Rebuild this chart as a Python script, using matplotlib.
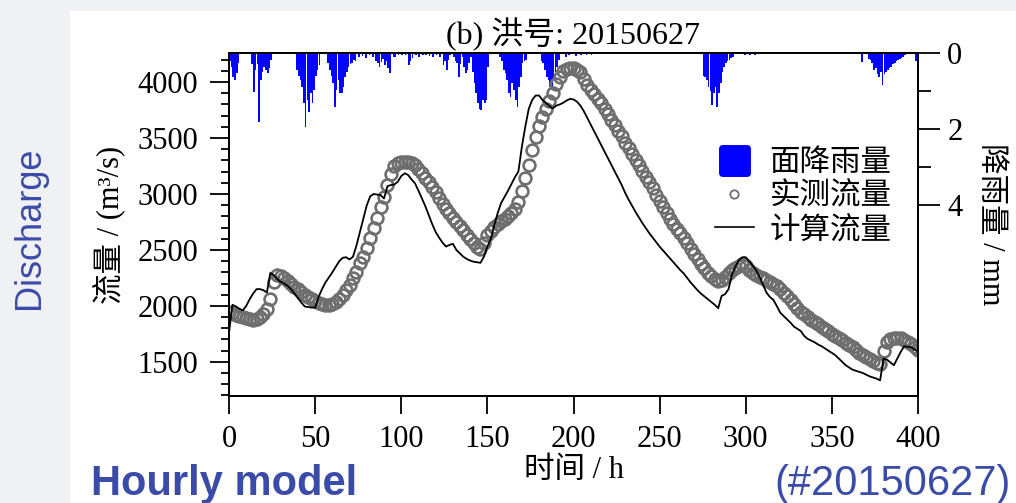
import matplotlib
matplotlib.use('Agg')
import matplotlib.pyplot as plt
from matplotlib.lines import Line2D
from matplotlib.markers import MarkerStyle
from matplotlib.patches import Rectangle
from matplotlib.ticker import MultipleLocator

plt.rcParams['font.family'] = ['Liberation Serif', 'Noto Sans CJK SC']

# time axis (h), every 2 hours
hours = list(range(0, 401, 2))

obs_flow = [
    1950, 1935, 1920, 1910, 1900, 1890, 1880, 1875, 1885, 1900,
    1925, 1970, 2060, 2210, 2280, 2270, 2245, 2220, 2195, 2170,
    2150, 2125, 2100, 2080, 2060, 2045, 2030, 2015, 2005, 2005,
    2015, 2035, 2060, 2095, 2140, 2185, 2250, 2300, 2380, 2440,
    2520, 2610, 2700, 2790, 2880, 2970, 3080, 3180, 3250, 3275,
    3285, 3290, 3285, 3275, 3255, 3220, 3185, 3145, 3105, 3065,
    3015, 2965, 2915, 2870, 2830, 2790, 2750, 2715, 2675, 2635,
    2595, 2560, 2530, 2505, 2560, 2630, 2670, 2705, 2735, 2755,
    2775, 2800, 2830, 2870, 2930, 3030, 3140, 3260, 3390, 3510,
    3610, 3690, 3760, 3830, 3900, 3980, 4045, 4095, 4120, 4130,
    4125, 4110, 4090, 4030, 3975, 3930, 3890, 3850, 3810, 3760,
    3715, 3665, 3615, 3565, 3515, 3460, 3410, 3355, 3305, 3255,
    3205, 3155, 3110, 3055, 2995, 2940, 2880, 2830, 2780, 2735,
    2690, 2650, 2610, 2560, 2510, 2460, 2415, 2375, 2335, 2295,
    2265, 2240, 2225, 2235, 2260, 2290, 2320, 2340, 2360, 2375,
    2360, 2320, 2295, 2275, 2260, 2245, 2230, 2215, 2200, 2180,
    2150, 2115, 2085, 2050, 2015, 1980, 1950, 1925, 1900, 1875,
    1855, 1835, 1815, 1795, 1775, 1750, 1730, 1715, 1695, 1670,
    1650, 1630, 1605, 1580, 1560, 1545, 1525, 1505, 1490, 1480,
    1600, 1680, 1705, 1715, 1715, 1710, 1695, 1680, 1660, 1630,
    1605,
]

# simulated discharge (m3/s), every 2 h
sim_flow = [
    1760, 2010, 1995, 1975, 1960, 2000, 2060, 2110, 2150, 2150,
    2140, 2120, 2295, 2275, 2240, 2215, 2200, 2180, 2150, 2110,
    2070, 2030, 1995, 1990, 1985, 1985, 2080, 2150, 2210, 2255,
    2300, 2350, 2400, 2430, 2435, 2415, 2440, 2540, 2660, 2780,
    2900, 2980, 3000, 2995, 2990, 2960, 3070, 3080, 3085, 3110,
    3160, 3185, 3170, 3130, 3095, 3030, 2960, 2890, 2810, 2730,
    2660, 2610, 2565, 2530, 2545, 2555, 2500, 2470, 2440, 2420,
    2405, 2395, 2390, 2385, 2440, 2530, 2600, 2720, 2830, 2920,
    2975, 3030, 3090, 3150, 3200, 3420, 3600, 3760, 3840, 3880,
    3880, 3840, 3815, 3785, 3765, 3790, 3800, 3815, 3835, 3850,
    3845, 3825, 3790, 3740, 3680, 3620, 3560, 3500, 3440, 3380,
    3320, 3260, 3200, 3140, 3080, 3010, 2950, 2895, 2840, 2790,
    2740, 2695, 2650, 2610, 2570, 2530, 2495, 2460, 2425, 2390,
    2355, 2320, 2290, 2250, 2210, 2175, 2140, 2110, 2085, 2060,
    2035, 2010, 1980, 2090, 2105, 2150, 2280, 2350, 2410, 2435,
    2435, 2400, 2360, 2320, 2260, 2190, 2120, 2080, 2055, 2000,
    1940, 1910, 1880, 1850, 1815, 1795, 1775, 1730, 1705, 1690,
    1675, 1655, 1640, 1620, 1600, 1580, 1560, 1530, 1500, 1470,
    1450, 1430, 1420, 1410, 1400, 1385, 1370, 1360, 1350, 1335,
    1530, 1520, 1495, 1470, 1530, 1590, 1640, 1635, 1630, 1610,
    1590,
]

# areal rainfall (mm), hours with rain
rain_hours = [
    0, 1, 2, 3, 4, 5,
    13, 14, 15, 16, 17, 18, 19, 20, 21, 22, 23, 24,
    39, 40, 41, 42, 43, 44, 45, 46, 47, 48, 49, 50, 51, 52,
    57, 58, 59, 60, 61, 62, 63, 64, 65, 66, 67, 68, 69, 70, 71, 72, 73,
    75, 77, 79, 81, 83, 85, 86, 87, 88, 89, 90, 91, 92, 93, 95, 96, 98,
    100, 102, 104, 105, 106, 108, 110, 112, 114, 116, 118, 120, 122,
    124, 125, 126, 127, 128, 130,
    131, 132, 133, 134, 135, 136, 137, 138, 139, 140, 141, 142, 143,
    144, 145, 146, 147, 148, 149, 150,
    157, 158, 159, 160, 161, 162, 163, 164, 165, 166, 167, 168, 169,
    170, 171, 172,
    181, 182, 183, 184, 185, 186, 187, 188, 189, 190, 191,
    195, 197, 201, 204, 207, 210,
    275, 276, 277, 278, 279, 280, 281, 282, 283, 284, 285, 286, 287,
    288, 289, 290, 291, 292,
    299, 302, 305, 357, 361, 367,
    371, 372, 373, 374, 375, 376, 377, 378, 379, 380, 381, 382, 383,
    384, 385, 386, 387, 388, 389, 390, 391, 392,
    398, 399,
]
rain_mm = [
    0.20, 0.36, 0.62, 0.71, 0.53, 0.27,
    0.30, 1.02, 0.45, 0.30, 1.81, 0.71, 0.50, 0.36, 0.45, 0.53, 0.40, 0.18,
    0.45, 0.60, 0.71, 0.89, 1.30, 1.94, 1.24, 1.54, 1.06, 1.32, 0.97, 0.60, 0.45, 0.32,
    0.27, 0.45, 0.60, 0.80, 1.41, 0.97, 0.71, 1.06, 1.06, 0.90, 0.62, 0.50, 0.36, 0.30, 0.27, 0.18, 0.20,
    0.10, 0.08, 0.14, 0.06, 0.10, 0.20, 0.27, 0.36, 0.23, 0.15, 0.32, 0.20, 0.40, 0.53, 0.10, 0.10, 0.05,
    0.05, 0.05, 0.32, 0.20, 0.14, 0.05, 0.10, 0.06, 0.05, 0.08, 0.10, 0.06, 0.10,
    0.32, 0.20, 0.45, 0.18, 0.05, 0.10,
    0.20, 0.27, 0.62, 0.30, 0.10, 0.36, 0.53, 0.45, 0.27, 0.10, 0.50, 0.80, 1.06,
    1.32, 1.46, 1.50, 1.24, 1.32, 1.24, 0.36,
    0.10, 0.20, 0.45, 0.53, 0.70, 1.06, 1.15, 0.80, 0.97, 1.24, 1.41, 0.90, 0.62,
    0.27, 0.20, 0.18,
    0.20, 0.27, 0.45, 0.62, 0.70, 0.89, 0.97, 0.71, 0.50, 0.36, 0.18,
    0.10, 0.05, 0.08, 0.05, 0.05, 0.05,
    0.60, 0.62, 0.71, 0.88, 1.00, 1.37, 1.06, 0.90, 1.41, 1.06, 0.80, 0.50, 0.36,
    0.27, 0.22, 0.18, 0.12, 0.10,
    0.05, 0.05, 0.05, 0.03, 0.03, 0.23,
    0.15, 0.18, 0.27, 0.45, 0.40, 0.54, 0.62, 0.50, 0.84, 0.54, 0.50, 0.45, 0.40,
    0.36, 0.30, 0.27, 0.22, 0.18, 0.16, 0.14, 0.10, 0.05,
    0.20, 0.20,
]

W, H = 1016, 503
fig = plt.figure(figsize=(W / 100, H / 100), dpi=100, facecolor='#f0f1f5')
# white slide panel
fig.add_artist(Rectangle((70 / W, 0), 1, 1 - 11 / H, transform=fig.transFigure,
                         facecolor='white', edgecolor='none', zorder=-10))

ax = fig.add_axes([229 / W, 1 - 396 / H, 689 / W, 343 / H])
ax2 = ax.twinx()

# rainfall bars hanging from the top
ax2.bar(rain_hours, rain_mm, width=0.95, align='edge', color='#0505ff', linewidth=0)
ax2.set_ylim(9, 0)
ax.set_zorder(ax2.get_zorder() + 1)
ax.patch.set_visible(False)

ax.plot(hours, obs_flow, ls='none', marker='o', ms=8.5, mfc='none', mec='#6e6e6e', mew=1.9)
ax.plot(hours, sim_flow, color='black', lw=1.3)

ax.set_xlim(0, 400)
ax.set_ylim(1195, 4260)
ax.xaxis.set_major_locator(MultipleLocator(50))
ax.set_yticks([1500, 2000, 2500, 3000, 3500, 4000])
ax.yaxis.set_minor_locator(MultipleLocator(100))
ax.tick_params(axis='y', which='major', direction='out', length=14, width=1.3, labelsize=22, pad=8)
ax.tick_params(axis='y', which='minor', direction='out', length=6, width=1.3)
ax.tick_params(axis='x', which='major', direction='out', length=13, width=1.3, labelsize=22, pad=8)

ax2.set_yticks([0, 2, 4])
ax2.set_yticks([1, 3], minor=True)
ax2.tick_params(axis='y', which='major', direction='out', length=16, width=1.3, labelsize=22, pad=5)
ax2.tick_params(axis='y', which='minor', direction='out', length=9, width=1.3)

for a in (ax, ax2):
    for s in a.spines.values():
        s.set_linewidth(1.3)

ax.set_ylabel('流量 / (m³/s)', fontsize=22, va='center')
ax.yaxis.set_label_coords(-0.173, 0.5)
ax2.set_ylabel('降雨量 / mm', fontsize=22, rotation=270, va='center')
ax2.yaxis.set_label_coords(1.1045, 0.5)
ax.set_xlabel('时间 / h', fontsize=22, va='center')
ax.xaxis.set_label_coords(0.5, -0.216)
ax.set_title('(b) 洪号: 20150627', fontsize=23, pad=6)

handles = [
    Line2D([], [], ls='none', marker=MarkerStyle('s', joinstyle='round'), ms=18,
           mfc='#0000ff', mec='#0000ff', mew=5),
    Line2D([], [], ls='none', marker='o', ms=6, mfc='none', mec='#6e6e6e', mew=1.3),
    Line2D([], [], color='black', lw=1.2),
]
labels = ['面降雨量', '实测流量', '计算流量']
ax.legend(handles, labels, loc='center', bbox_to_anchor=(803 / W, 1 - 197 / H),
          bbox_transform=fig.transFigure, frameon=False, fontsize=22,
          handlelength=1.3, handletextpad=0.5, labelspacing=0.15, borderpad=0)

blue = '#3b4ba8'
fig.text(29 / W, 1 - 228 / H, 'Discharge', rotation=90, color=blue, fontsize=26,
         family='Liberation Sans', ha='center', va='center')
fig.text(91 / W, 1 - 495 / H, 'Hourly model', color=blue, fontsize=30, fontweight='bold',
         family='Liberation Sans', ha='left', va='baseline')
fig.text(1011 / W, 1 - 495 / H, '(#20150627)', color=blue, fontsize=30,
         family='Liberation Sans', ha='right', va='baseline')

fig.savefig('out.png', dpi=100, facecolor=fig.get_facecolor())
